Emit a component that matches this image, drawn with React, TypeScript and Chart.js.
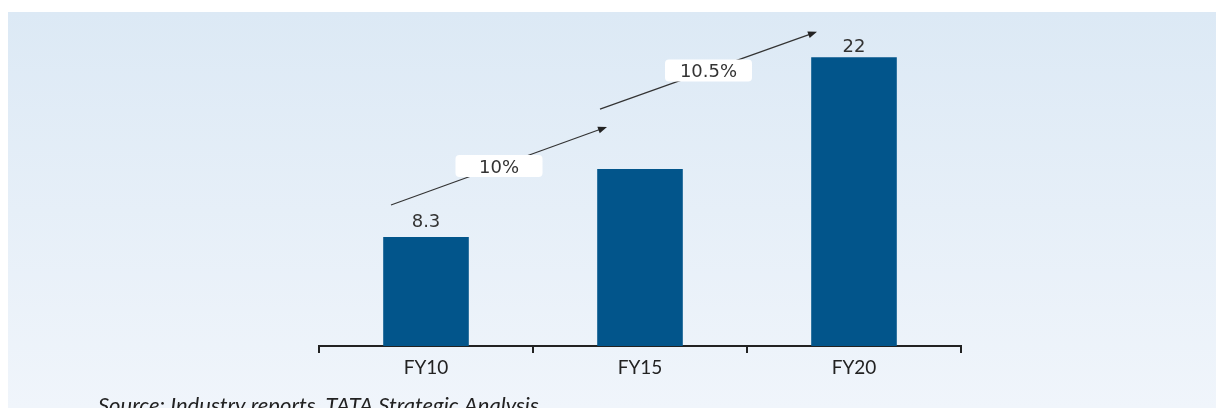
import React, { useEffect, useRef } from "react";
import { Chart, registerables } from "chart.js";

Chart.register(...registerables);

const categories = ["FY10", "FY15", "FY20"];
const values = [8.3, 13.5, 22];
const valueLabels = ["8.3", "", "22"];
const growthLabels = ["10%", "10.5%"];
const sourceText = "Source: Industry reports, TATA Strategic Analysis";

const W = 1216;
const H = 408;

const decorPlugin = {
  id: "decor",
  beforeDraw(chart: any) {
    const ctx = chart.ctx;
    ctx.save();
    const g = ctx.createLinearGradient(0, 12, 0, H);
    g.addColorStop(0, "#dce9f5");
    g.addColorStop(1, "#f0f5fb");
    ctx.fillStyle = g;
    ctx.fillRect(8, 12, W - 8, H - 12);
    ctx.restore();
  },
  afterDraw(chart: any) {
    const ctx = chart.ctx;
    const x = chart.scales.x;
    const y = chart.scales.y;
    const meta = chart.getDatasetMeta(0);
    ctx.save();
    // value labels
    ctx.fillStyle = "#333333";
    ctx.font = "18px 'DejaVu Sans', sans-serif";
    ctx.textAlign = "center";
    ctx.textBaseline = "alphabetic";
    meta.data.forEach((bar: any, i: number) => {
      const gap = i === meta.data.length - 1 ? 5 : 10;
      if (valueLabels[i]) ctx.fillText(valueLabels[i], bar.x, bar.y - gap);
    });
    // growth arrows
    const arrows = [
      { x0: x.getPixelForValue(0) - 35, v0: 10.75, x1: x.getPixelForValue(1) - 33, v1: 16.7 },
      { x0: x.getPixelForValue(1) - 40, v0: 18.05, x1: x.getPixelForValue(2) - 37, v1: 23.95 },
    ];
    arrows.forEach((a, i) => {
      const px0 = a.x0, py0 = y.getPixelForValue(a.v0);
      const px1 = a.x1, py1 = y.getPixelForValue(a.v1);
      const ang = Math.atan2(py1 - py0, px1 - px0);
      ctx.strokeStyle = "#333333";
      ctx.lineWidth = 1.2;
      ctx.beginPath();
      ctx.moveTo(px0, py0);
      ctx.lineTo(px1 - 7 * Math.cos(ang), py1 - 7 * Math.sin(ang));
      ctx.stroke();
      ctx.fillStyle = "#222222";
      ctx.beginPath();
      ctx.moveTo(px1, py1);
      ctx.lineTo(px1 - 9 * Math.cos(ang) + 3.5 * Math.sin(ang), py1 - 9 * Math.sin(ang) - 3.5 * Math.cos(ang));
      ctx.lineTo(px1 - 9 * Math.cos(ang) - 3.5 * Math.sin(ang), py1 - 9 * Math.sin(ang) + 3.5 * Math.cos(ang));
      ctx.closePath();
      ctx.fill();
      // label box
      const cx = (px0 + px1) / 2;
      const cy = (py0 + py1) / 2;
      const bw = 87, bh = 22;
      ctx.fillStyle = "#ffffff";
      ctx.beginPath();
      (ctx as any).roundRect(cx - bw / 2, cy - bh / 2, bw, bh, 4);
      ctx.fill();
      ctx.fillStyle = "#333333";
      ctx.font = "18px 'DejaVu Sans', sans-serif";
      ctx.textAlign = "center";
      ctx.textBaseline = "alphabetic";
      ctx.fillText(growthLabels[i], cx, cy + 7);
    });
    // source
    ctx.fillStyle = "#222222";
    ctx.font = "italic 22px Lato, 'Open Sans', sans-serif";
    ctx.textAlign = "left";
    ctx.textBaseline = "alphabetic";
    ctx.fillText(sourceText, 98, 412.5);
    ctx.restore();
  },
};

export default function App() {
  const ref = useRef<HTMLCanvasElement>(null);
  useEffect(() => {
    if (!ref.current) return;
    const chart = new Chart(ref.current, {
      type: "bar",
      data: {
        labels: categories,
        datasets: [
          {
            data: values,
            backgroundColor: "#02558b",
            categoryPercentage: 1,
            barPercentage: 0.4,
          },
        ],
      },
      options: {
        responsive: false,
        animation: false,
        layout: { padding: { left: 319, right: 255, top: 18, bottom: 0 } },
        plugins: { legend: { display: false }, tooltip: { enabled: false } },
        scales: {
          x: {
            afterFit(scale: any) {
              scale.height = 62;
            },
            border: { display: true, color: "#222222", width: 2 },
            grid: {
              drawOnChartArea: false,
              drawTicks: true,
              tickLength: 7,
              color: "#222222",
              lineWidth: 2,
              offset: true,
            },
            ticks: {
              color: "#222222",
              padding: 3,
              font: { family: "Lato, 'Open Sans', sans-serif", size: 19 },
            },
          },
          y: {
            display: false,
            min: 0,
            max: 25,
          },
        },
      },
      plugins: [decorPlugin],
    });
    return () => chart.destroy();
  }, []);
  return (
    <div style={{ position: "fixed", left: 0, top: 0, width: W, height: H, background: "#ffffff" }}>
      <canvas ref={ref} width={W} height={H} style={{ width: W, height: H }} />
    </div>
  );
}
